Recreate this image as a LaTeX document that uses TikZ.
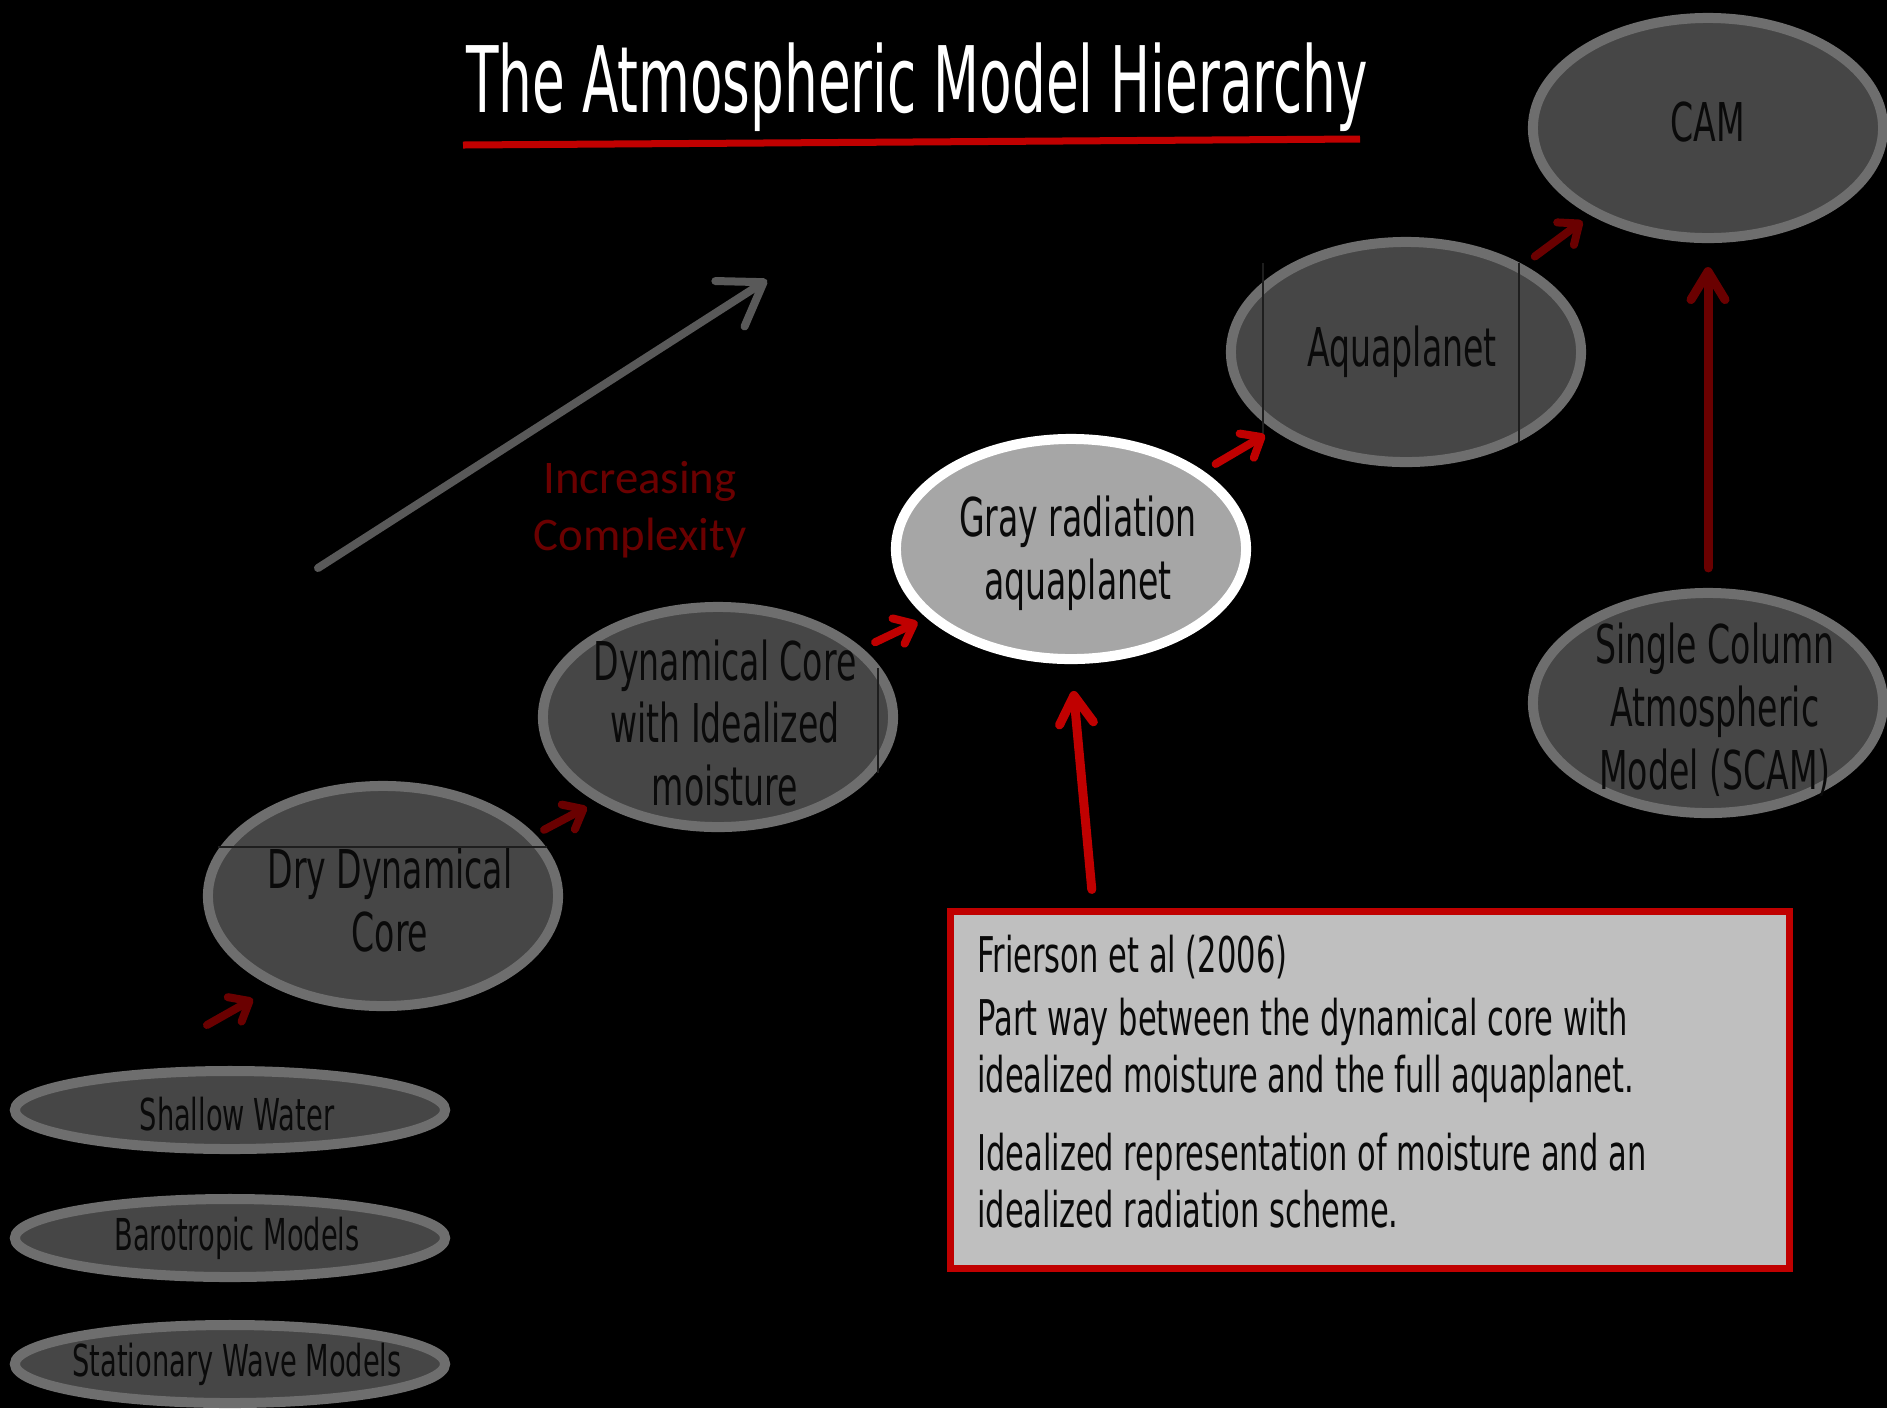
\documentclass[tikz,border=0pt]{standalone}
\usepackage{fontspec}
\usetikzlibrary{shapes.geometric,arrows.meta,calc}
\newfontfamily\agency[FakeStretch=0.62]{DejaVu Sans}
\newfontfamily\agencytitle[FakeStretch=0.58]{DejaVu Sans}
\newfontfamily\calib{Carlito}

\definecolor{modelfill}{HTML}{464646}
\definecolor{modelrim}{HTML}{6E6E6E}
\definecolor{grayfill}{HTML}{A6A6A6}
\definecolor{ink}{HTML}{0A0A0A}
\definecolor{hotred}{HTML}{C00000}
\definecolor{dimred}{HTML}{6A0000}
\definecolor{notefill}{HTML}{BFBFBF}
\definecolor{risegray}{HTML}{595959}
\definecolor{seam}{HTML}{1E1E1E}

\tikzset{
  model/.style={ellipse, draw=modelrim, fill=modelfill, line width=0.1cm, minimum width=3.5cm, minimum height=2.2cm, inner sep=0pt},
  flatmodel/.style={model, minimum width=4.3cm, minimum height=0.78cm},
  modeltext/.style={text=ink, font=\agency\fontsize{15.2}{17.9}\selectfont, align=center, inner sep=0pt, xshift=0.07cm},
  flattext/.style={text=ink, font=\agency\fontsize{12.5}{15}\selectfont, inner sep=0pt, xshift=0.07cm},
  linkarrow/.style={line width=0.08cm, line cap=round, -{Straight Barb[round,length=0.17cm,width=0.28cm]}},
  bigarrow/.style={line width=0.09cm, line cap=round, -{Straight Barb[round,length=0.28cm,width=0.34cm]}},
  between/.style={shorten <=0.14cm, shorten >=0.1cm},
}

\begin{document}
\begin{tikzpicture}
\begin{scope}[x={(0.01cm,0)},y={(0,-0.01cm)}]
\path[use as bounding box,fill=black] (0,0) rectangle (1887,1408);

% title
\node[anchor=base,text=white,font=\agencytitle\fontsize{26.1}{30}\selectfont,inner sep=0pt] (title) at (917,112) {The Atmospheric Model Hierarchy};
\draw[hotred,line width=0.07cm] (463,145) -- (1360,139);

% simple models
\node[flatmodel,label={[flattext,yshift=-0.04cm]center:Shallow Water}] (shallow) at (230,1110) {};
\node[flatmodel,label={[flattext]center:Barotropic Models}] (baro) at (230,1238) {};
\node[flatmodel,label={[flattext]center:Stationary Wave Models}] (stat) at (230,1364) {};

% ladder of models
\node[model,label={[modeltext,yshift=-0.04cm]center:Dry Dynamical\\Core}] (dry) at (383,896) {};
\node[model,label={[modeltext,yshift=-0.06cm]center:Dynamical Core\\with Idealized\\moisture}] (dyn) at (718,717) {};
\node[model,draw=white,fill=grayfill,label={[modeltext,yshift=-0.04cm]center:Gray radiation\\aquaplanet}] (gray) at (1071,549) {};
\node[model,label={[modeltext,xshift=-0.11cm]center:Aquaplanet}] (aqua) at (1406,352) {};
\node[model,label={[modeltext,xshift=-0.07cm,yshift=0.06cm]center:CAM}] (cam) at (1708,128) {};
\node[model,label={[modeltext,yshift=-0.07cm]center:Single Column\\Atmospheric\\Model (SCAM)}] (scam) at (1708,703) {};

% leftover frame edges
\draw[seam,line width=0.012cm] (218,847) -- (547,847);
\draw[seam,line width=0.012cm] (878,668) -- (878,773);
\draw[seam,line width=0.012cm] (1263,263) -- (1263,442);
\draw[seam,line width=0.012cm] (1519,263) -- (1519,442);

% complexity arrow
\draw[risegray,line width=0.08cm,line cap=round,-{Straight Barb[round,length=0.4cm,width=0.54cm]}] (318,568) -- (767,280);
\node[text=dimred,font=\calib\fontsize{13.3}{16.2}\selectfont,align=center,inner sep=0pt] (rise) at (640,510) {Increasing\\Complexity};

% note box
\node[draw=hotred,fill=notefill,line width=0.07cm,minimum width=8.38cm,minimum height=3.56cm,text width=7.85cm,inner xsep=0.265cm,inner ysep=0pt,align=left,text=ink,font=\agency\fontsize{14}{16.2}\selectfont] (note) at (1370,1090) {\spaceskip=0pt\xspaceskip=0pt\relax
Frierson et al (2006)\\[0.06cm]Part way between the dynamical core with\\idealized moisture and the full aquaplanet.\\[0.21cm]Idealized representation of moisture and an\\idealized radiation scheme.\rule[-0.18cm]{0pt}{0.18cm}};

% steps up the ladder
\coordinate (lowstart) at (207,1025);
\draw[linkarrow,dimred] (lowstart) -- ++(46,-26);
\draw[linkarrow,dimred,shorten <=0.1cm,shorten >=0.11cm] (dry.22) -- (dyn.215);
\draw[linkarrow,between,hotred] (dyn) -- (gray);
\draw[linkarrow,between,hotred] (gray) -- (aqua);
\draw[linkarrow,between,dimred] (aqua) -- (cam);
\draw[bigarrow,dimred,shorten <=0.2cm,shorten >=0.24cm] (scam) -- (cam);
\draw[bigarrow,hotred,shorten <=0.19cm,shorten >=0.27cm] ($(note.north west)!0.173!(note.north east)$) -- (gray.south);

\end{scope}
\end{tikzpicture}
\end{document}
